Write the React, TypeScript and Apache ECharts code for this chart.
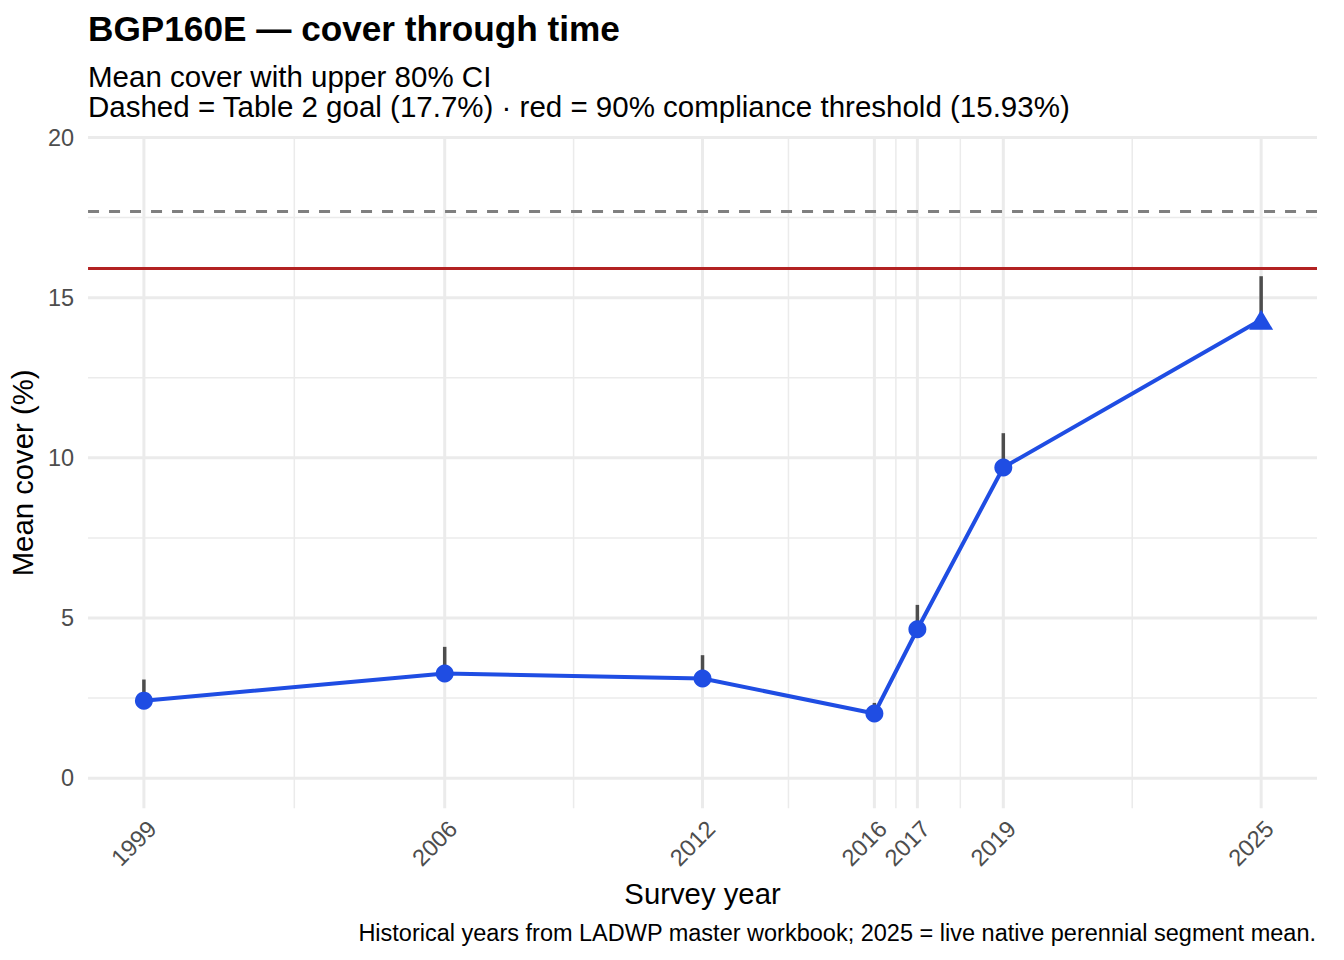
import React, { useEffect, useRef } from "react";
import * as echarts from "echarts";

// ---- data ----
const years = [1999, 2006, 2012, 2016, 2017, 2019, 2025];
const meanCover = [2.42, 3.27, 3.11, 2.02, 4.65, 9.7, 14.31];
const upperCI = [3.08, 4.1, 3.84, 2.35, 5.41, 10.77, 15.67];
const yTicks = [0, 5, 10, 15, 20];
const yMinor = [2.5, 7.5, 12.5, 17.5];
const xMinor = [2002.5, 2009, 2014, 2016.5, 2018, 2022];
const goalValue = 17.7;
const thresholdValue = 15.93;

const titleText = "BGP160E \u2014 cover through time";
const subtitle1 = "Mean cover with upper 80% CI";
const subtitle2 =
  "Dashed = Table 2 goal (17.7%) \u00b7 red = 90% compliance threshold (15.93%)";
const captionText =
  "Historical years from LADWP master workbook; 2025 = live native perennial segment mean.";

const X_MIN = 1997.7;
const X_MAX = 2026.3;
const Y_MIN = -0.94;
const Y_MAX = 20;

const FONT = '"Liberation Sans", Arial, Helvetica, sans-serif';
const BLUE = "#1f4de3";

function gridSeries(values: number[], orient: "v" | "h", width: number) {
  return {
    type: "custom",
    silent: true,
    z: 1,
    clip: false,
    data: values.map((v) => (orient === "v" ? [v, 10] : [2010, v])),
    encode: { x: 0, y: 1 },
    renderItem: (_params: any, api: any) => {
      const v = api.value(orient === "v" ? 0 : 1);
      const a = orient === "v" ? api.coord([v, Y_MIN]) : api.coord([X_MIN, v]);
      const b = orient === "v" ? api.coord([v, Y_MAX]) : api.coord([X_MAX, v]);
      return {
        type: "line",
        shape: { x1: a[0], y1: a[1], x2: b[0], y2: b[1] },
        style: { stroke: "#ebebeb", lineWidth: width },
      };
    },
  };
}

export default function App() {
  const ref = useRef<HTMLDivElement>(null);

  useEffect(() => {
    if (!ref.current) return;
    const chart = echarts.init(ref.current, undefined, { renderer: "svg" });

    const mainData = years.map((y, i) =>
      y === 2025
        ? { value: [y, meanCover[i]], symbol: "triangle", symbolSize: [24, 20] }
        : { value: [y, meanCover[i]] }
    );

    chart.setOption({
      animation: false,
      backgroundColor: "#ffffff",
      textStyle: { fontFamily: FONT },
      grid: { left: 88, right: 27, top: 137.5, bottom: 151.7, containLabel: false },
      xAxis: {
        type: "value",
        min: X_MIN,
        max: X_MAX,
        name: "Survey year",
        nameLocation: "middle",
        nameGap: 85,
        nameTextStyle: {
          fontSize: 29.3,
          color: "#000000",
          fontFamily: FONT,
          verticalAlign: "middle",
          align: "center",
        },
        axisLine: { show: false },
        axisTick: { show: false },
        splitLine: { show: false },
        axisLabel: {
          customValues: years,
          rotate: 45,
          align: "right",
          verticalAlign: "top",
          margin: 8,
          fontSize: 23.5,
          color: "#4d4d4d",
          fontFamily: FONT,
          formatter: (v: number) => String(v),
        },
      },
      yAxis: {
        type: "value",
        min: Y_MIN,
        max: Y_MAX,
        name: "Mean cover (%)",
        nameLocation: "middle",
        nameGap: 60,
        nameRotate: 90,
        nameTextStyle: {
          fontSize: 29.3,
          color: "#000000",
          fontFamily: FONT,
          verticalAlign: "middle",
          align: "center",
        },
        axisLine: { show: false },
        axisTick: { show: false },
        splitLine: { show: false },
        axisLabel: {
          customValues: yTicks,
          margin: 14,
          fontSize: 23.5,
          color: "#4d4d4d",
          fontFamily: FONT,
          formatter: (v: number) => String(v),
        },
      },
      graphic: [
        {
          type: "text",
          x: 88,
          y: 28,
          style: {
            text: titleText,
            fontSize: 35.2,
            fontWeight: "bold",
            fontFamily: FONT,
            fill: "#000000",
            align: "left",
            verticalAlign: "middle",
          },
        },
        {
          type: "text",
          x: 88,
          y: 76,
          style: {
            text: subtitle1,
            fontSize: 29.5,
            fontFamily: FONT,
            fill: "#000000",
            align: "left",
            verticalAlign: "middle",
          },
        },
        {
          type: "text",
          x: 88,
          y: 106,
          style: {
            text: subtitle2,
            fontSize: 29.5,
            fontFamily: FONT,
            fill: "#000000",
            align: "left",
            verticalAlign: "middle",
          },
        },
        {
          type: "text",
          x: 1316,
          y: 933,
          style: {
            text: captionText,
            fontSize: 23.5,
            fontFamily: FONT,
            fill: "#000000",
            align: "right",
            verticalAlign: "middle",
          },
        },
      ],
      series: [
        gridSeries(yMinor, "h", 1.5),
        gridSeries(xMinor, "v", 1.5),
        gridSeries(yTicks, "h", 3),
        gridSeries(years, "v", 3),
        {
          type: "custom",
          name: "Upper 80% CI",
          z: 3,
          silent: true,
          data: years.map((y, i) => [y, meanCover[i], upperCI[i]]),
          encode: { x: 0, y: [1, 2] },
          renderItem: (_params: any, api: any) => {
            const x = api.value(0);
            const a = api.coord([x, api.value(1)]);
            const b = api.coord([x, api.value(2)]);
            return {
              type: "line",
              shape: { x1: a[0], y1: a[1], x2: b[0], y2: b[1] },
              style: { stroke: "#4d4d4d", lineWidth: 3.5 },
            };
          },
        },
        {
          type: "line",
          name: "Mean cover",
          z: 4,
          data: mainData,
          symbol: "circle",
          symbolSize: 18,
          showSymbol: true,
          lineStyle: { color: BLUE, width: 4 },
          itemStyle: { color: BLUE, borderWidth: 0 },
          markLine: {
            silent: true,
            symbol: ["none", "none"],
            label: { show: false },
            emphasis: { disabled: true },
            data: [
              {
                yAxis: goalValue,
                lineStyle: { color: "#7f7f7f", width: 3, type: [11, 10] },
              },
              {
                yAxis: thresholdValue,
                lineStyle: { color: "#b22222", width: 2.8, type: "solid" },
              },
            ],
          },
        },
      ],
    });

    return () => chart.dispose();
  }, []);

  return (
    <div
      ref={ref}
      style={{ position: "fixed", left: 0, top: 0, width: 1344, height: 960 }}
    />
  );
}
